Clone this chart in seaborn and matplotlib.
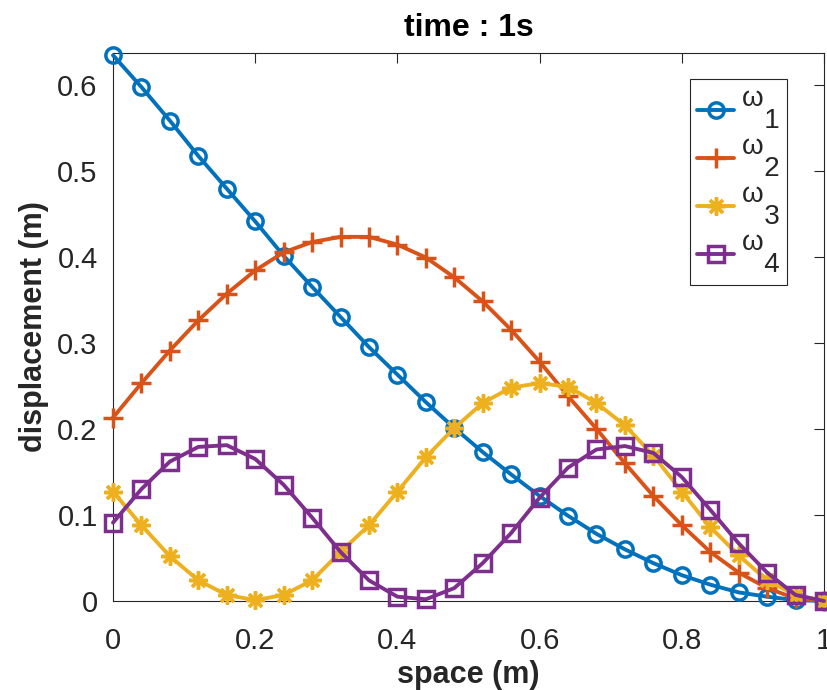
import numpy as np
import pandas as pd
import matplotlib
matplotlib.use("Agg")
import matplotlib.pyplot as plt
import seaborn as sns

space = [round(0.04 * i, 2) for i in range(26)]

omega1 = [0.634, 0.597, 0.558, 0.517, 0.479, 0.441, 0.401, 0.365, 0.330, 0.295,
          0.263, 0.231, 0.201, 0.173, 0.147, 0.122, 0.099, 0.078, 0.060, 0.044,
          0.030, 0.019, 0.010, 0.005, 0.001, 0.000]
omega2 = [0.213, 0.253, 0.291, 0.326, 0.357, 0.384, 0.405, 0.417, 0.423, 0.423,
          0.414, 0.399, 0.376, 0.348, 0.315, 0.278, 0.238, 0.200, 0.160, 0.122,
          0.088, 0.057, 0.033, 0.015, 0.003, 0.000]
omega3 = [0.127, 0.088, 0.052, 0.024, 0.007, 0.001, 0.007, 0.024, 0.057, 0.088,
          0.127, 0.167, 0.201, 0.230, 0.248, 0.253, 0.249, 0.230, 0.204, 0.169,
          0.127, 0.086, 0.053, 0.024, 0.007, 0.000]
omega4 = [0.091, 0.130, 0.162, 0.179, 0.181, 0.165, 0.135, 0.097, 0.057, 0.024,
          0.005, 0.002, 0.015, 0.044, 0.079, 0.120, 0.155, 0.176, 0.180, 0.172,
          0.144, 0.106, 0.067, 0.033, 0.007, 0.000]

labels = ['ω\n   1', 'ω\n   2', 'ω\n   3', 'ω\n   4']
x_ticks = [0, 0.2, 0.4, 0.6, 0.8, 1]
x_ticklabels = ['0', '0.2', '0.4', '0.6', '0.8', '1']
y_ticks = [0, 0.1, 0.2, 0.3, 0.4, 0.5, 0.6]
y_ticklabels = ['0', '0.1', '0.2', '0.3', '0.4', '0.5', '0.6']

sns.set_style("white")
plt.rcParams['font.family'] = ['Liberation Sans', 'DejaVu Sans']

fig = plt.figure(figsize=(8.27, 6.90), dpi=100)
ax = fig.add_axes([113/827, 1 - 601/690, (824 - 113)/827, (601 - 53)/690])

colors = ['#0072BD', '#D95319', '#EDB120', '#7E2F8E']
markers = ['o', '+', (8, 2, 0), 's']
msizes = [11, 14, 13, 11]
series = [omega1, omega2, omega3, omega4]

for vals, col, mk, ms, lab in zip(series, colors, markers, msizes, labels):
    df = pd.DataFrame({'space': space, 'disp': vals})
    filled = mk not in ('o', 's')
    sns.lineplot(data=df, x='space', y='disp', ax=ax, color=col, linewidth=2.8,
                 marker=mk, markersize=ms, markeredgewidth=2.5,
                 markerfacecolor=(col if filled else 'none'), markeredgecolor=col,
                 label=lab, clip_on=False, zorder=3)

ax.set_xlim(0, 1)
ax.set_ylim(0, 0.6366)
ax.set_xticks(x_ticks)
ax.set_xticklabels(x_ticklabels)
ax.set_yticks(y_ticks)
ax.set_yticklabels(y_ticklabels)
ax.tick_params(direction='in', length=7, width=0.8, colors='#262626',
               labelsize=21, top=True, right=True)
ax.tick_params(axis='x', pad=19)
ax.tick_params(axis='y', pad=11)
for sp in ax.spines.values():
    sp.set_visible(True)
    sp.set_color('#262626')
    sp.set_linewidth(0.8)

ax.set_xlabel('space (m)', fontsize=22, fontweight='bold', color='#262626', labelpad=3)
ax.set_ylabel('displacement (m)', fontsize=22, fontweight='bold', color='#262626', labelpad=6)
ax.set_title('time : 1s', fontsize=23, fontweight='bold', color='black', pad=12)

leg = ax.legend(loc='upper left', bbox_to_anchor=((690 - 113) / 711, (601 - 79) / 548),
                bbox_transform=ax.transAxes,
                fontsize=20, frameon=True, fancybox=False, framealpha=1,
                edgecolor='#262626', handlelength=1.35, handletextpad=0.25,
                borderpad=0.25, labelspacing=0.0, borderaxespad=0)
leg.get_frame().set_linewidth(0.8)
for t in leg.get_texts():
    t.set_color('#262626')
    t.set_linespacing(0.8)

fig.savefig('out.png', dpi=100)
